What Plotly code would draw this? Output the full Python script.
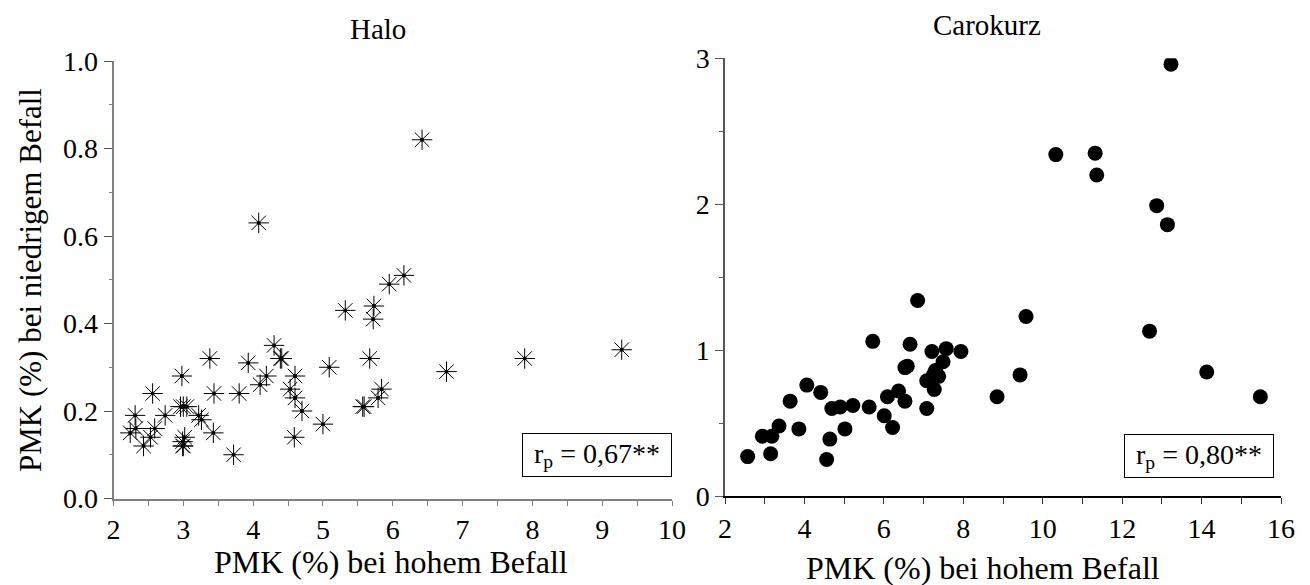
import plotly.graph_objects as go

# ---- data ----
halo_x = [2.24, 2.31, 2.32, 2.43, 2.53, 2.59, 2.56, 2.74, 2.98, 2.96, 3.00, 3.05, 3.02, 2.99, 3.00, 2.99,
          3.22, 3.26, 3.38, 3.44, 3.43, 3.72, 3.80, 3.93, 4.08, 4.10, 4.19, 4.30, 4.39, 4.41, 4.53, 4.60,
          4.60, 4.70, 4.59, 5.00, 5.09, 5.32, 5.57, 5.59, 5.67, 5.73, 5.72, 5.79, 5.84, 5.95, 6.16, 6.42,
          6.77, 7.89, 9.28]
halo_y = [0.15, 0.19, 0.16, 0.12, 0.14, 0.16, 0.24, 0.19, 0.28, 0.21, 0.21, 0.21, 0.14, 0.13, 0.12, 0.12,
          0.19, 0.18, 0.32, 0.24, 0.15, 0.10, 0.24, 0.31, 0.63, 0.26, 0.28, 0.35, 0.32, 0.32, 0.25, 0.28,
          0.23, 0.20, 0.14, 0.17, 0.30, 0.43, 0.21, 0.21, 0.32, 0.44, 0.41, 0.23, 0.25, 0.49, 0.51, 0.82,
          0.29, 0.32, 0.34]

caro_x = [2.57, 2.94, 3.18, 3.15, 3.36, 3.64, 3.86, 4.06, 4.41, 4.56, 4.64, 4.69, 4.90, 5.02, 5.22, 5.63,
          5.72, 6.01, 6.09, 6.22, 6.37, 6.53, 6.53, 6.59, 6.66, 6.85, 7.08, 7.08, 7.21, 7.25, 7.27, 7.30,
          7.38, 7.49, 7.57, 7.94, 8.85, 9.43, 9.58, 10.33, 11.32, 11.36, 12.69, 12.87, 13.14, 13.23,
          14.13, 15.48]
caro_y = [0.27, 0.41, 0.41, 0.29, 0.48, 0.65, 0.46, 0.76, 0.71, 0.25, 0.39, 0.60, 0.61, 0.46, 0.62, 0.61,
          1.06, 0.55, 0.68, 0.47, 0.72, 0.65, 0.88, 0.89, 1.04, 1.34, 0.60, 0.79, 0.99, 0.83, 0.73, 0.86,
          0.82, 0.92, 1.01, 0.99, 0.68, 0.83, 1.23, 2.34, 2.35, 2.20, 1.13, 1.99, 1.86, 2.96,
          0.85, 0.68]

titles = ["Halo", "Carokurz"]
x_title = "PMK (%) bei hohem Befall"
y_title = "PMK (%) bei niedrigem Befall"
r_texts = ["r<sub>p</sub> = 0,67**", "r<sub>p</sub> = 0,80**"]

W, H = 1310, 585
OFF = 8  # page body margin offset
FONT = "Liberation Serif, Times New Roman, serif"

def px(x):
    return (x - OFF) / W

def py(y):
    return 1 - (y - OFF) / H

fig = go.Figure()

# Halo: asterisks with centre dot
fig.add_trace(go.Scatter(x=halo_x, y=halo_y, mode="markers", xaxis="x", yaxis="y",
                         marker=dict(symbol="asterisk-open", size=17, color="black",
                                     line=dict(color="black", width=1)),
                         showlegend=False, hoverinfo="x+y"))
fig.add_trace(go.Scatter(x=halo_x, y=halo_y, mode="markers", xaxis="x", yaxis="y",
                         marker=dict(symbol="circle", size=4, color="black"),
                         showlegend=False, hoverinfo="skip"))
# Carokurz: filled circles
fig.add_trace(go.Scatter(x=caro_x, y=caro_y, mode="markers", xaxis="x2", yaxis="y2",
                         marker=dict(symbol="circle", size=15, color="black",
                                     line=dict(width=0)),
                         showlegend=False, hoverinfo="x+y"))

tickfont = dict(family=FONT, size=28, color="black")

fig.update_layout(
    width=W, height=H,
    margin=dict(l=0, r=0, t=0, b=0, autoexpand=False),
    paper_bgcolor="white", plot_bgcolor="white",
    font=dict(family=FONT, color="black"),
    xaxis=dict(domain=[px(113.5), px(672)], range=[2, 10], dtick=1, tick0=2, automargin=False,
               showgrid=False, zeroline=False, showline=True, linecolor="#808080", linewidth=2,
               ticks="outside", ticklen=5, tickcolor="#808080", tickwidth=1,
               minor=dict(dtick=0.5, ticks="outside", ticklen=5, tickcolor="#808080", showgrid=False),
               tickfont=tickfont, anchor="y"),
    yaxis=dict(domain=[py(498.5), py(61)], range=[0, 1], dtick=0.2, tick0=0, tickformat=".1f",
               automargin=False,
               showgrid=False, zeroline=False, showline=True, linecolor="#808080", linewidth=2,
               ticks="outside", ticklen=8, tickcolor="#555555", tickwidth=1,
               minor=dict(dtick=0.1, ticks="outside", ticklen=3, tickcolor="#808080", showgrid=False),
               tickfont=tickfont, anchor="x"),
    xaxis2=dict(domain=[px(725), px(1281)], range=[2, 16], dtick=2, tick0=2, automargin=False,
                showgrid=False, zeroline=False, showline=True, linecolor="black", linewidth=2,
                ticks="outside", ticklen=6, tickcolor="#333333", tickwidth=1,
                minor=dict(dtick=1, ticks="outside", ticklen=6, tickcolor="#333333", showgrid=False),
                tickfont=tickfont, anchor="y2"),
    yaxis2=dict(domain=[py(496), py(58.3)], range=[0, 3], dtick=1, tick0=0, automargin=False,
                showgrid=False, zeroline=False, showline=True, linecolor="#555555", linewidth=1.5,
                ticks="outside", ticklen=8, tickcolor="#555555", tickwidth=1,
                minor=dict(dtick=0.5, ticks="outside", ticklen=4, tickcolor="#555555", showgrid=False),
                tickfont=tickfont, anchor="x2"),
)

def txt(text, x, y, size, **kw):
    d = dict(text=text, x=px(x), y=py(y), xref="paper", yref="paper", showarrow=False,
             xanchor="center", yanchor="middle",
             font=dict(family=FONT, size=size, color="black"))
    d.update(kw)
    return d

ann = [
    txt(titles[0], 378, 29, 29),
    txt(titles[1], 987, 25, 29),
    txt(x_title, 391, 562, 32),
    txt(x_title, 983, 568, 32),
    txt(y_title, 30, 280, 31, textangle=-90),
    txt(r_texts[0], 596.5, 455, 28, width=148, height=42, align="center", valign="middle",
        bordercolor="black", borderwidth=1, borderpad=0, bgcolor="white"),
    txt(r_texts[1], 1198.5, 456, 28, width=148, height=42, align="center", valign="middle",
        bordercolor="black", borderwidth=1, borderpad=0, bgcolor="white"),
]
fig.update_layout(annotations=ann)

fig.write_html("out.html")
